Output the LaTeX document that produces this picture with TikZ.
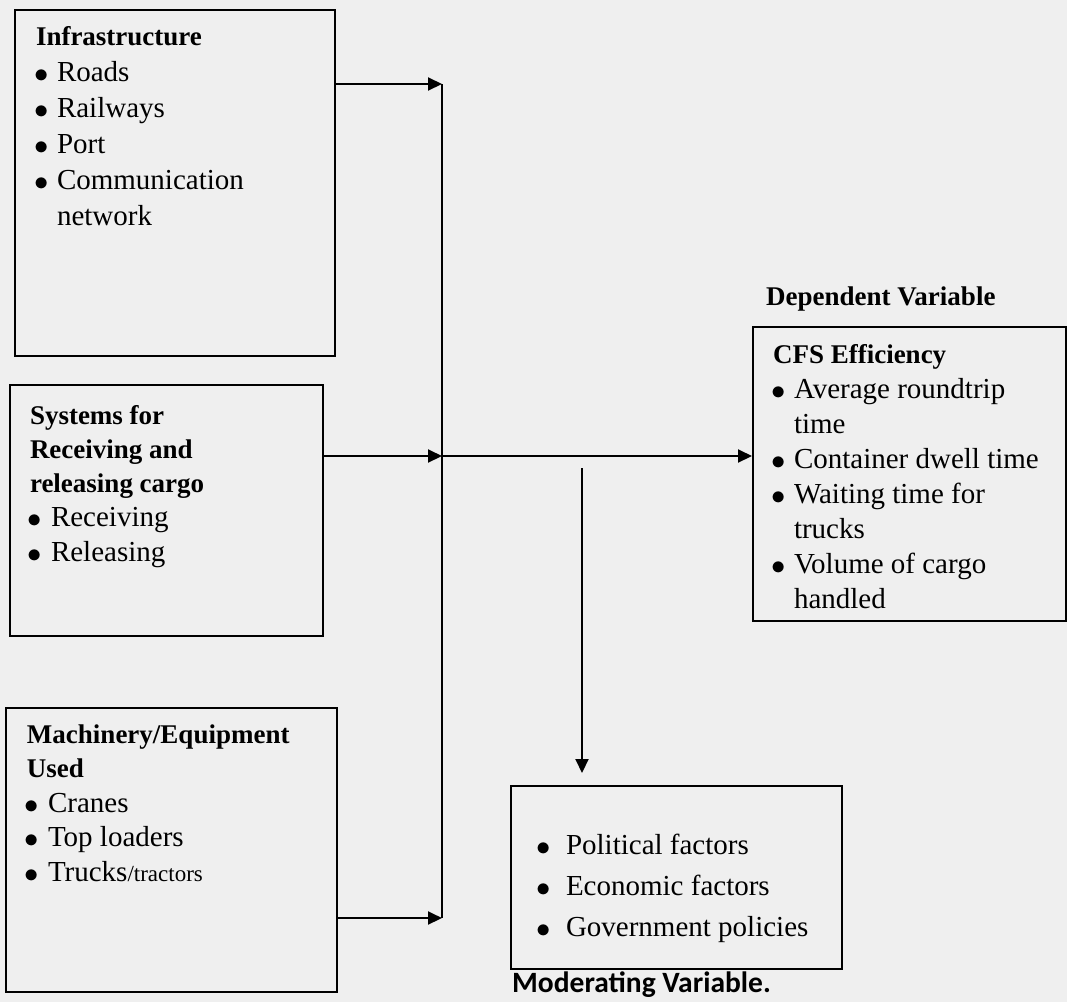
\documentclass[tikz,border=0pt]{standalone}
\usepackage{fontspec}
\setmainfont{Liberation Serif}
\newfontfamily\calibfont{Carlito}
\usetikzlibrary{arrows.meta, positioning}
\definecolor{pageGray}{HTML}{EFEFEF}
\newcommand{\itm}[2][21pt]{\par\hangindent=#1\hangafter=1\noindent\makebox[#1][l]{\hspace*{-2pt}\raisebox{-1pt}{\scalebox{1.15}{$\bullet$}}}#2}
\newcommand{\hd}[1]{{\fontsize{27}{35}\selectfont\bfseries #1}\par}
% width, height, line skip, first baseline, text
\newcommand{\boxtext}[5]{\begin{minipage}[t][#2][t]{#1}\rightskip=0pt plus 1fil\fontsize{29}{#3}\selectfont
  \vspace*{\dimexpr#4-#3\relax}\prevdepth=0pt #5\end{minipage}}

\begin{document}
\begin{tikzpicture}[x=1pt, y=-1pt,
      bx/.style={draw, line width=2pt, anchor=north west, inner ysep=0pt},
      arr/.style={line width=2pt, -{Triangle[length=14pt, width=13pt]}},
      lbl/.style={anchor=base west, inner sep=0pt}]
    \fill[pageGray] (0,0) rectangle (1067,1002);
    \useasboundingbox (0,0) rectangle (1067,1002);
    \node[bx, inner xsep=21pt] (infra) at (14,9)
      {\boxtext{278pt}{346pt}{36pt}{35pt}{\hd{Infrastructure}
        \itm{Roads}\itm{Railways}\itm{Port}\itm{Communication\\network}}};
    \node[bx, inner xsep=20pt] (sys) at (9,384)
      {\boxtext{273pt}{251pt}{34.25pt}{39pt}{\hd{Systems for\\Receiving and\\releasing cargo}
        \itm{Receiving}\itm{Releasing}}};
    \node[bx, inner xsep=21pt] (mach) at (5,707)
      {\boxtext{289pt}{284pt}{34.5pt}{35pt}{\hd{Machinery/Equipment\\Used}
        \itm{Cranes}\itm{Top loaders}\itm{Trucks{\fontsize{23}{34.5}\selectfont/tractors}}}};
    \node[bx, inner xsep=20pt] (cfs) at (752,326)
      {\boxtext{273pt}{294pt}{35.1pt}{36pt}{\hd{CFS Efficiency}
        \itm{Average roundtrip\\time}\itm{Container dwell time}\itm{Waiting time for\\trucks}
        \itm{Volume of cargo\\handled}}};
    \node[bx, inner xsep=27pt] (mod) at (510,785)
      {\boxtext{277pt}{183pt}{41pt}{68pt}{\itm[28pt]{\mbox{Political factors}}
        \itm[28pt]{\mbox{Economic factors}}\itm[28pt]{\mbox{Government policies}}}};
    \node[lbl, font=\fontsize{27}{30}\selectfont\bfseries] (dep) at (766,305) {Dependent Variable};
    \node[lbl, font=\fontsize{29.5}{32}\selectfont\calibfont\bfseries] (modlbl) at (512,992) {Moderating Variable.};
    \coordinate (top) at (442,84);
    \coordinate (mid) at (442,456);
    \coordinate (bot) at (442,918);
    \coordinate (drop) at (582,468);
    \draw[line width=2pt] (top) -- (bot);
    \draw[arr] (infra.east |- top) -- (top);
    \draw[arr] (sys.east |- mid) -- (mid);
    \draw[arr] (mach.east |- bot) -- (bot);
    \draw[arr] (mid) -- (cfs.west |- mid);
    \draw[arr, shorten >=12pt] (drop) -- (drop |- mod.north);
  \end{tikzpicture}
\end{document}
